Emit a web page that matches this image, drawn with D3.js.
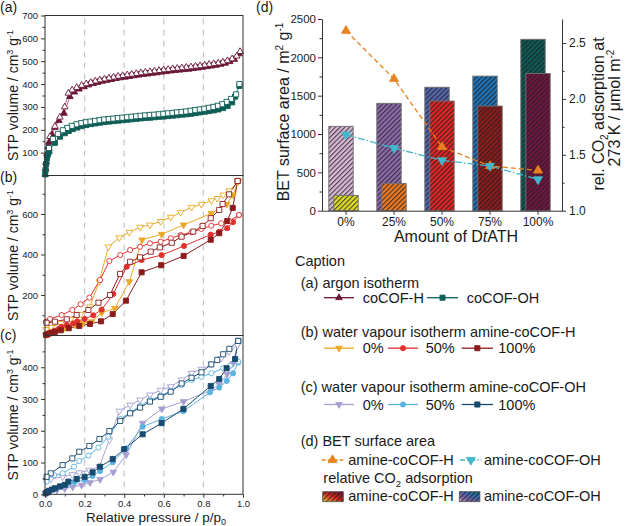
<!DOCTYPE html>
<html><head><meta charset="utf-8">
<script src="https://cdn.jsdelivr.net/npm/d3@7/dist/d3.min.js"></script>
<style>
html,body{margin:0;padding:0;background:#fff;}
svg text{font-family:"Liberation Sans",Arial,Helvetica,sans-serif;fill:#1a1a1a;}
</style></head><body>
<svg id="chart" width="625" height="526"></svg>
<script>
// ---------------- DATA ----------------
const pressureTicks=[0,0.2,0.4,0.6,0.8,1.0];
const pressureMinor=[0.1,0.3,0.5,0.7,0.9];
const gridP=[0.2,0.4,0.6,0.8];
const aTicks=[100,200,300,400,500,600,700];
const aMinor=[50,150,250,350,450,550,650];
const bTicks=[200,400,600];
const bMinor=[100,300,500,700];
const cTicks=[0,100,200,300,400];
const cMinor=[50,150,250,350,450];

// (a) argon isotherms [p/p0, volume]
const argonH_ads=[[0.001,5],[0.003,30],[0.006,60],[0.01,95],[0.015,125],[0.02,145],[0.035,180],[0.05,210],[0.07,240],[0.096,272],[0.126,345],[0.148,365],[0.172,378],[0.197,388],[0.22,396],[0.243,402],[0.266,407],[0.289,412],[0.312,416],[0.335,420],[0.358,424],[0.381,427],[0.404,430],[0.427,433],[0.45,436],[0.473,439],[0.496,442],[0.519,444],[0.542,447],[0.565,449],[0.588,452],[0.611,454],[0.634,457],[0.657,459],[0.68,461],[0.703,463],[0.726,465],[0.749,468],[0.772,470],[0.795,473],[0.818,476],[0.841,479],[0.864,482],[0.887,486],[0.91,491],[0.933,498],[0.956,508],[0.98,532]];
const argonH_des=[[0.985,542],[0.968,522],[0.945,510],[0.921,502],[0.898,496],[0.875,492],[0.852,489],[0.829,486],[0.806,483],[0.783,480],[0.76,478],[0.737,475],[0.714,473],[0.691,471],[0.668,469],[0.645,467],[0.622,464],[0.599,462],[0.576,459],[0.553,457],[0.53,454],[0.507,452],[0.484,449],[0.461,446],[0.438,443],[0.415,440],[0.392,437],[0.369,434],[0.346,430],[0.323,426],[0.3,422],[0.277,418],[0.254,413],[0.231,407],[0.208,401],[0.185,394],[0.16,385],[0.137,374],[0.118,360],[0.1,300],[0.075,255],[0.05,215],[0.025,170]];
const argonOH_ads=[[0.001,5],[0.003,25],[0.006,50],[0.01,75],[0.015,92],[0.022,105],[0.05,143],[0.076,170],[0.1,185],[0.12,195],[0.14,203],[0.163,210],[0.186,216],[0.209,221],[0.232,225],[0.255,228],[0.278,231],[0.301,234],[0.324,236],[0.347,238],[0.37,240],[0.393,242],[0.416,244],[0.439,246],[0.462,248],[0.485,250],[0.508,252],[0.531,253],[0.554,255],[0.577,257],[0.6,258],[0.623,260],[0.646,262],[0.669,264],[0.692,266],[0.715,268],[0.738,270],[0.761,273],[0.784,276],[0.807,279],[0.83,282],[0.853,285],[0.876,289],[0.899,295],[0.922,304],[0.945,320],[0.96,345],[0.982,392]];
const argonOH_des=[[0.982,400],[0.965,355],[0.94,335],[0.917,322],[0.894,312],[0.871,305],[0.848,300],[0.825,296],[0.802,292],[0.779,289],[0.756,286],[0.733,283],[0.71,280],[0.687,278],[0.664,276],[0.641,274],[0.618,272],[0.595,270],[0.572,268],[0.549,266],[0.526,265],[0.503,263],[0.48,261],[0.457,259],[0.434,257],[0.411,255],[0.388,253],[0.365,251],[0.342,249],[0.319,247],[0.296,245],[0.273,242],[0.25,239],[0.227,236],[0.204,233],[0.181,229],[0.158,224],[0.135,217],[0.112,208],[0.09,198],[0.065,182],[0.04,160],[0.02,120]];

// (b) water vapour, amine-coCOF-H
const wH0_ads=[[0.005,3],[0.02,10],[0.05,22],[0.1,38],[0.15,52],[0.19,60],[0.236,68],[0.286,113],[0.353,134],[0.426,266],[0.49,472],[0.589,500],[0.70,546],[0.84,603],[0.918,648],[0.95,694],[0.975,760]];
const wH0_des=[[0.975,760],[0.93,714],[0.90,694],[0.87,677],[0.84,666],[0.79,648],[0.74,633],[0.685,608],[0.635,584],[0.584,563],[0.53,546],[0.48,535],[0.426,510],[0.375,483],[0.32,438],[0.274,266],[0.226,142],[0.18,105],[0.13,80],[0.08,60],[0.03,40],[0.005,30]];
const wH50_ads=[[0.005,5],[0.015,10],[0.03,16],[0.05,24],[0.07,33],[0.084,43],[0.11,52],[0.143,60],[0.163,70],[0.2,82],[0.244,100],[0.286,128],[0.345,205],[0.413,340],[0.488,373],[0.589,397],[0.702,442],[0.837,498],[0.88,512],[0.92,530],[0.95,560],[0.98,595]];
const wH50_des=[[0.98,595],[0.93,565],[0.89,554],[0.84,542],[0.79,526],[0.74,510],[0.685,496],[0.635,480],[0.584,463],[0.53,455],[0.48,438],[0.43,422],[0.38,397],[0.325,368],[0.278,274],[0.224,187],[0.18,154],[0.138,126],[0.084,101],[0.025,81],[0.005,68]];
const wH100_ads=[[0.005,3],[0.015,7],[0.03,12],[0.05,18],[0.08,26],[0.12,36],[0.173,47],[0.227,57],[0.283,70],[0.342,106],[0.409,172],[0.488,312],[0.587,347],[0.70,393],[0.837,473],[0.88,505],[0.92,565],[0.948,630],[0.973,763]];
const wH100_des=[[0.973,763],[0.93,697],[0.897,649],[0.88,620],[0.837,579],[0.796,541],[0.749,513],[0.69,488],[0.64,458],[0.58,435],[0.534,414],[0.48,386],[0.43,364],[0.379,304],[0.328,200],[0.27,162],[0.219,126],[0.16,101],[0.11,80],[0.05,68],[0.008,63]];

// (c) water vapour, amine-coCOF-OH
const wOH0_ads=[[0.005,3],[0.025,8],[0.06,13],[0.1,18],[0.14,23],[0.185,29],[0.227,37],[0.278,47],[0.345,70],[0.41,124],[0.493,224],[0.59,269],[0.70,292],[0.837,328],[0.88,346],[0.92,378],[0.95,412],[0.972,470]];
const wOH0_des=[[0.972,470],[0.93,449],[0.89,428],[0.84,410],[0.79,394],[0.74,381],[0.69,360],[0.635,339],[0.584,328],[0.53,313],[0.48,297],[0.43,281],[0.375,262],[0.325,171],[0.274,87],[0.224,76],[0.173,68],[0.138,62],[0.089,55],[0.029,48],[0.008,42]];
const wOH50_ads=[[0.005,4],[0.02,10],[0.05,17],[0.08,24],[0.11,30],[0.15,38],[0.2,45],[0.24,58],[0.278,73],[0.342,101],[0.41,145],[0.493,213],[0.589,237],[0.70,262],[0.833,321],[0.88,336],[0.918,357],[0.95,381],[0.976,415]];
const wOH50_des=[[0.976,418],[0.934,405],[0.90,397],[0.84,381],[0.79,370],[0.74,360],[0.69,344],[0.635,326],[0.584,310],[0.53,297],[0.48,278],[0.43,258],[0.38,237],[0.32,181],[0.27,147],[0.219,122],[0.173,105],[0.146,87],[0.089,66],[0.047,60],[0.008,40]];
const wOH100_ads=[[0.003,3],[0.01,7],[0.02,11],[0.035,15],[0.05,19],[0.076,25],[0.1,30],[0.118,40],[0.16,48],[0.2,55],[0.24,69],[0.278,87],[0.342,111],[0.4,142],[0.493,189],[0.589,224],[0.699,269],[0.837,341],[0.88,363],[0.917,397],[0.96,426],[0.976,483]];
const wOH100_des=[[0.976,483],[0.931,458],[0.90,441],[0.87,423],[0.84,409],[0.79,384],[0.74,367],[0.69,349],[0.635,323],[0.584,307],[0.53,292],[0.48,273],[0.43,255],[0.38,231],[0.325,199],[0.275,174],[0.224,152],[0.173,134],[0.138,113],[0.089,92],[0.029,66],[0.008,55]];

// (d) BET / CO2
const categories=["0%","25%","50%","75%","100%"];
const betOH=[1100,1400,1610,1755,2235];
const betH=[200,355,1430,1365,1790];
const co2H=[2.61,2.18,1.57,1.40,1.36];
const co2OH=[1.68,1.56,1.45,1.40,1.28];
const leftTicks=[0,500,1000,1500,2000,2500];
const leftMinor=[250,750,1250,1750,2250];
const rightTicks=[1.0,1.5,2.0,2.5];
const rightMinor=[1.25,1.75,2.25];

// ---------------- STYLES ----------------
const C={mar:"#6a1637",marL:"#b87090",teal:"#0d5e56",tealL:"#5c9c95",
 yel:"#e9a925",red:"#e0312f",dred:"#8c1b1b",lil:"#a79fd0",lblue:"#5cb2df",navy:"#174a6f",
 org:"#e8821e",cyan:"#43b7cb"};
const ohColors=["#dcbad9","#8e6cad","#5767ae","#2074b8","#0f5b56"];
const hColors=["#e2df2c","#ee7c26","#e02626","#8d1d1d","#701842"];
const AX="#333";

const svg=d3.select("#chart");
const defs=svg.append("defs");
defs.append("pattern").attr("id","hatch").attr("patternUnits","userSpaceOnUse")
 .attr("width",3.4).attr("height",3.4).attr("patternTransform","rotate(45)")
 .append("line").attr("x1",0.6).attr("y1",0).attr("x2",0.6).attr("y2",3.4)
 .attr("stroke","#1b1b1b").attr("stroke-width",1.1).attr("stroke-opacity",0.8);
function grad(id,cols){
 const g=defs.append("linearGradient").attr("id",id).attr("x1","0").attr("y1","1").attr("x2","1").attr("y2","0");
 cols.forEach((c,i)=>{g.append("stop").attr("offset",i/(cols.length-1)).attr("stop-color",c);});
}
grad("gradH",hColors);
grad("gradOH",ohColors);

function sym(shape,big){
 const k=big?1.8:1;
 if(shape==="tri"||shape==="dtri") return d3.symbol(d3.symbolTriangle,19*k)();
 if(shape==="sq") return d3.symbol(d3.symbolSquare,26*k)();
 return d3.symbol(d3.symbolCircle,21*k)();
}
function marker(g,x,y,shape,color,open,big){
 g.append("path").attr("d",sym(shape,big))
  .attr("transform",`translate(${x},${y})${shape==="dtri"?" rotate(180)":""}`)
  .attr("fill",open?"#fff":color).attr("stroke",color).attr("stroke-width",0.9);
}

// ---------------- PANELS a-c ----------------
const X0=45,X1=243;
const xP=d3.scaleLinear().domain([0,1]).range([X0,X1]);
const panels=[
 {label:"(a)",labelY:12,top:15.5,bottom:175.5,domain:[0,700],major:aTicks,minor:aMinor,series:[
  {d:argonH_ads,c:C.mar,l:C.marL,s:"tri",o:false},{d:argonH_des,c:C.mar,l:C.marL,s:"tri",o:true},
  {d:argonOH_ads,c:C.teal,l:C.tealL,s:"sq",o:false},{d:argonOH_des,c:C.teal,l:C.tealL,s:"sq",o:true}]},
 {label:"(b)",labelY:182,top:175.5,bottom:335.5,domain:[0,790],major:bTicks,minor:bMinor,series:[
  {d:wH0_ads,c:C.yel,l:C.yel,s:"dtri",o:false},{d:wH0_des,c:C.yel,l:C.yel,s:"dtri",o:true},
  {d:wH50_ads,c:C.red,l:C.red,s:"circ",o:false},{d:wH50_des,c:C.red,l:C.red,s:"circ",o:true},
  {d:wH100_ads,c:C.dred,l:C.dred,s:"sq",o:false},{d:wH100_des,c:C.dred,l:C.dred,s:"sq",o:true}]},
 {label:"(c)",labelY:340,top:335.5,bottom:494.3,domain:[0,500],major:cTicks,minor:cMinor,series:[
  {d:wOH0_ads,c:C.lil,l:C.lil,s:"dtri",o:false},{d:wOH0_des,c:C.lil,l:C.lil,s:"dtri",o:true},
  {d:wOH50_ads,c:C.lblue,l:C.lblue,s:"circ",o:false},{d:wOH50_des,c:C.lblue,l:C.lblue,s:"circ",o:true},
  {d:wOH100_ads,c:C.navy,l:C.navy,s:"sq",o:false},{d:wOH100_des,c:C.navy,l:C.navy,s:"sq",o:true}]}
];

function styleAxis(sel,fs){
 sel.attr("font-family",null).attr("font-size",fs);
 sel.selectAll(".tick line").attr("stroke",AX);
 sel.selectAll(".tick text").attr("fill","#1a1a1a");
}

panels.forEach(pd=>{
 const y=d3.scaleLinear().domain(pd.domain).range([pd.bottom,pd.top]);
 const g=svg.append("g");
 g.selectAll(null).data(gridP).join("line")
  .attr("x1",d=>xP(d)).attr("x2",d=>xP(d)).attr("y1",pd.top+3).attr("y2",pd.bottom)
  .attr("stroke","#cacaca").attr("stroke-width",1.3).attr("stroke-dasharray","6,5");
 const line=d3.line().x(d=>xP(d[0])).y(d=>y(d[1]));
 pd.series.forEach(s=>{
  g.append("path").attr("d",line(s.d)).attr("fill","none").attr("stroke",s.l).attr("stroke-width",1);
 });
 pd.series.forEach(s=>{
  s.d.forEach(d=>marker(g,xP(d[0]),y(d[1]),s.s,s.c,s.o,false));
 });
 g.append("rect").attr("x",X0).attr("y",pd.top).attr("width",X1-X0).attr("height",pd.bottom-pd.top)
  .attr("fill","none").attr("stroke",AX).attr("stroke-width",1);
 const ax=g.append("g").attr("transform",`translate(${X0},0)`)
  .call(d3.axisLeft(y).tickValues(pd.major).tickSize(4).tickPadding(3).tickFormat(d3.format("d")).tickSizeOuter(0));
 ax.select(".domain").remove(); styleAxis(ax,9.5);
 const axm=g.append("g").attr("transform",`translate(${X0},0)`)
  .call(d3.axisLeft(y).tickValues(pd.minor).tickSize(2.5).tickFormat(""));
 axm.select(".domain").remove(); styleAxis(axm,9.5);
 svg.append("text").attr("x",0).attr("y",pd.labelY).attr("font-size",14).text(pd.label);
 const cy=(pd.top+pd.bottom)/2;
 const t=svg.append("text").attr("transform",`translate(17.5,${cy}) rotate(-90)`).attr("text-anchor","middle").attr("font-size",14);
 t.append("tspan").text("STP volume / cm");
 t.append("tspan").attr("dy",-5).attr("font-size",9).text("3");
 t.append("tspan").attr("dy",5).text(" g");
 t.append("tspan").attr("dy",-5).attr("font-size",9).text("-1");
});
// x axis (bottom of c)
{
 const g=svg.append("g").attr("transform","translate(0,494.3)");
 const ax=g.call(d3.axisBottom(xP).tickValues(pressureTicks).tickSize(3.5).tickPadding(2).tickFormat(d3.format(".1f")).tickSizeOuter(0));
 ax.select(".domain").remove(); styleAxis(ax,9.5);
 const gm=svg.append("g").attr("transform","translate(0,494.3)")
  .call(d3.axisBottom(xP).tickValues(pressureMinor).tickSize(2.2).tickFormat(""));
 gm.select(".domain").remove(); styleAxis(gm,9.5);
 const t=svg.append("text").attr("x",156).attr("y",522).attr("text-anchor","middle").attr("font-size",13.5);
 t.append("tspan").text("Relative pressure / p/p");
 t.append("tspan").attr("dy",3).attr("font-size",9).text("0");
}

// ---------------- PANEL d ----------------
const xB=d3.scaleBand().domain(categories).range([322,562]).padding(0);
const yL=d3.scaleLinear().domain([0,2500]).range([210.7,19]);
const yR=d3.scaleLinear().domain([1,2.715]).range([210.7,19]);
const cx=c=>xB(c)+xB.bandwidth()/2;
const gd=svg.append("g");
function bar(x,v,col){
 gd.append("rect").attr("x",x).attr("y",yL(v)).attr("width",24.4).attr("height",yL(0)-yL(v)).attr("fill",col);
 gd.append("rect").attr("x",x).attr("y",yL(v)).attr("width",24.4).attr("height",yL(0)-yL(v))
  .attr("fill","url(#hatch)").attr("stroke","#707070").attr("stroke-width",0.9);
}
categories.forEach((c,i)=>bar(cx(c)-17.2,betOH[i],ohColors[i]));
categories.forEach((c,i)=>bar(cx(c)-12.2,betH[i],hColors[i]));
const lineR=d3.line().x((d,i)=>cx(categories[i])).y(d=>yR(d));
gd.append("path").attr("d",lineR(co2H)).attr("fill","none").attr("stroke",C.org).attr("stroke-width",1.3).attr("stroke-dasharray","5,3");
gd.append("path").attr("d",lineR(co2OH)).attr("fill","none").attr("stroke",C.cyan).attr("stroke-width",1.3).attr("stroke-dasharray","7,2,1.5,2");
co2H.forEach((v,i)=>marker(gd,cx(categories[i]),yR(v),"tri",C.org,false,true));
co2OH.forEach((v,i)=>marker(gd,cx(categories[i]),yR(v),"dtri",C.cyan,false,true));
// axes d
{
 const a1=gd.append("g").attr("transform","translate(322,0)").call(d3.axisLeft(yL).tickValues(leftTicks).tickFormat(d3.format("d")).tickSize(4).tickPadding(2).tickSizeOuter(0));
 a1.select(".domain").attr("stroke",AX); styleAxis(a1,11.5);
 const a1m=gd.append("g").attr("transform","translate(322,0)").call(d3.axisLeft(yL).tickValues(leftMinor).tickSize(2.5).tickFormat("").tickSizeOuter(0));
 a1m.select(".domain").remove(); styleAxis(a1m,11.5);
 const a2=gd.append("g").attr("transform","translate(562,0)").call(d3.axisRight(yR).tickValues(rightTicks).tickFormat(d3.format(".1f")).tickSize(4).tickPadding(3).tickSizeOuter(0));
 a2.select(".domain").attr("stroke",AX); styleAxis(a2,12);
 const a2m=gd.append("g").attr("transform","translate(562,0)").call(d3.axisRight(yR).tickValues(rightMinor).tickSize(2.5).tickFormat("").tickSizeOuter(0));
 a2m.select(".domain").remove(); styleAxis(a2m,12);
 const a3=gd.append("g").attr("transform","translate(0,210.7)").call(d3.axisBottom(xB).tickSize(4).tickPadding(3).tickSizeOuter(0));
 a3.select(".domain").attr("stroke",AX); styleAxis(a3,12);
}
svg.append("text").attr("x",256).attr("y",12).attr("font-size",14).text("(d)");
{
 const t=svg.append("text").attr("transform","translate(288.5,112) rotate(-90)").attr("text-anchor","middle").attr("font-size",16);
 t.append("tspan").text("BET surface area / m");
 t.append("tspan").attr("dy",-6).attr("font-size",10).text("2");
 t.append("tspan").attr("dy",6).text(" g");
 t.append("tspan").attr("dy",-6).attr("font-size",10).text("-1");
 const r1=svg.append("text").attr("transform","translate(603.5,114) rotate(-90)").attr("text-anchor","middle").attr("font-size",16);
 r1.append("tspan").text("rel. CO");
 r1.append("tspan").attr("dy",4).attr("font-size",10).text("2");
 r1.append("tspan").attr("dy",-4).text(" adsorption at");
 const r2=svg.append("text").attr("transform","translate(620,108) rotate(-90)").attr("text-anchor","middle").attr("font-size",16);
 r2.append("tspan").text("273 K / μmol m");
 r2.append("tspan").attr("dy",-6).attr("font-size",10).text("-2");
 const xt=svg.append("text").attr("x",456).attr("y",242).attr("text-anchor","middle").attr("font-size",16);
 xt.append("tspan").text("Amount of D");
 xt.append("tspan").attr("font-style","italic").text("t");
 xt.append("tspan").text("ATH");
}

// ---------------- CAPTION ----------------
const FS=14.5;
function txt(x,y,s){return svg.append("text").attr("x",x).attr("y",y).attr("font-size",FS).text(s);}
function legLine(x1,x2,y,color,shape,dash){
 svg.append("line").attr("x1",x1).attr("x2",x2).attr("y1",y).attr("y2",y).attr("stroke",color).attr("stroke-width",1.3)
  .attr("stroke-dasharray",dash||null);
 marker(svg,(x1+x2)/2,y,shape,color,false,dash?true:false);
}
txt(295,266,"Caption");
txt(300.7,288,"(a) argon isotherm");
legLine(324,354,297.7,C.mar,"tri"); txt(362.7,302.5,"coCOF-H");
legLine(427,458,297.7,C.teal,"sq"); txt(466.7,302.5,"coCOF-OH");
txt(300.7,336.5,"(b) water vapour isotherm amine-coCOF-H");
legLine(324,354,348.2,C.yel,"dtri"); txt(362.7,353,"0%");
legLine(388,418,348.2,C.red,"circ"); txt(425.7,353,"50%");
legLine(461.7,493,348.2,C.dred,"sq"); txt(498.3,353,"100%");
txt(300.7,391.5,"(c) water vapour isotherm amine-coCOF-OH");
legLine(324,354,404.5,C.lil,"dtri"); txt(362.7,409.5,"0%");
legLine(388,418,404.5,C.lblue,"circ"); txt(425.7,409.5,"50%");
legLine(461.7,493,404.5,C.navy,"sq"); txt(498.3,409.5,"100%");
txt(300.7,446,"(d) BET surface area");
legLine(321.7,343.3,460,C.org,"tri","4,2"); txt(348.3,464.5,"amine-coCOF-H");
legLine(460,481.7,460,C.cyan,"dtri","5,2,1.5,2"); txt(484,464.5,"amine-coCOF-OH");
{
 const t=txt(323.3,482.5,"relative CO");
 t.append("tspan").attr("dy",4).attr("font-size",9.5).text("2");
 t.append("tspan").attr("dy",-4).text(" adsorption");
}
function swatch(x,gid){
 svg.append("rect").attr("x",x).attr("y",491.7).attr("width",20.6).attr("height",10).attr("fill",`url(#${gid})`);
 svg.append("rect").attr("x",x).attr("y",491.7).attr("width",20.6).attr("height",10).attr("fill","url(#hatch)").attr("stroke","#555").attr("stroke-width",0.8);
}
swatch(322.7,"gradH"); txt(348.3,501,"amine-coCOF-H");
swatch(459.3,"gradOH"); txt(484,501,"amine-coCOF-OH");
</script></body></html>
